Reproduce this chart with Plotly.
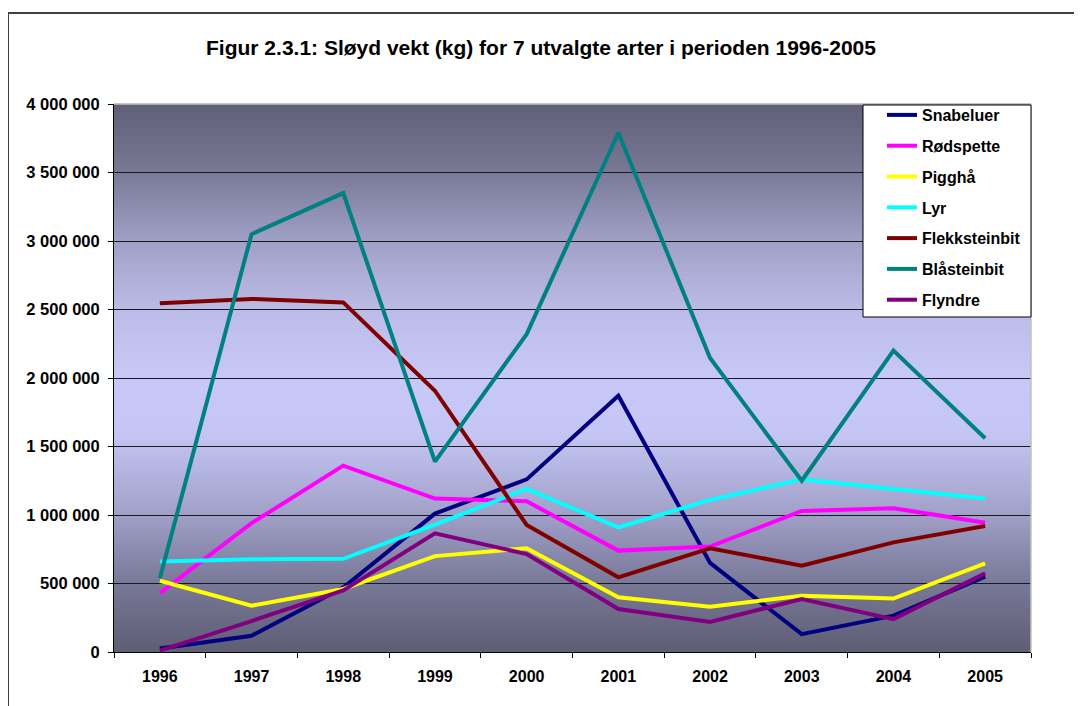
import plotly.graph_objects as go

years = ["1996", "1997", "1998", "1999", "2000", "2001", "2002", "2003", "2004", "2005"]

snabeluer = [25000, 119000, 470000, 1010000, 1260000, 1870000, 650000, 130000, 265000, 550000]
rodspette = [430000, 940000, 1360000, 1120000, 1100000, 740000, 770000, 1030000, 1050000, 944000]
piggha = [520000, 338000, 460000, 700000, 757000, 400000, 330000, 410000, 390000, 647000]
lyr = [660000, 677000, 680000, 930000, 1190000, 910000, 1110000, 1260000, 1190000, 1120000]
flekksteinbit = [2545000, 2577000, 2552000, 1907000, 927000, 545000, 757000, 630000, 800000, 920000]
blasteinbit = [538000, 3050000, 3350000, 1390000, 2320000, 3790000, 2146000, 1250000, 2200000, 1560000]
flyndre = [10000, 226000, 450000, 866000, 715000, 314000, 220000, 387000, 240000, 574000]

series_names = ["Snabeluer", "Rødspette", "Pigghå", "Lyr", "Flekksteinbit", "Blåsteinbit", "Flyndre"]
series_values = [snabeluer, rodspette, piggha, lyr, flekksteinbit, blasteinbit, flyndre]
series_colors = ["#000080", "#ff00ff", "#ffff00", "#00ffff", "#800000", "#008080", "#800080"]

W, H = 1082, 706
OFF = 8  # page body margin
L, R, T, B = 114, 1031, 104, 652  # plot area in reference pixels
FONT = "Arial, Liberation Sans, sans-serif"

fig = go.Figure()
for i, (name, vals, col) in enumerate(zip(series_names, series_values, series_colors)):
    fig.add_trace(go.Scatter(
        x=years, y=vals, name=name, mode="lines",
        line=dict(color=col, width=4),
        legendgroup=f"g{i}",
    ))

def px2paper_x(px):
    return (px - L) / (R - L)

def px2paper_y(py):
    return (B - py) / (B - T)

# gradient background (plot area)
stops = [
    (0.00, (95, 95, 118)),
    (0.12, (120, 120, 150)),
    (0.25, (160, 160, 198)),
    (0.38, (188, 188, 232)),
    (0.50, (200, 200, 248)),
    (0.60, (198, 198, 246)),
    (0.75, (160, 160, 200)),
    (0.876, (120, 120, 152)),
    (1.00, (94, 94, 116)),
]

def grad(t):
    for (t0, c0), (t1, c1) in zip(stops[:-1], stops[1:]):
        if t0 <= t <= t1:
            f = (t - t0) / (t1 - t0) if t1 > t0 else 0
            return tuple(round(a + (b - a) * f) for a, b in zip(c0, c1))
    return stops[-1][1]

shapes = []
N = 137
for k in range(N):
    t_top = k / N
    t_bot = (k + 1) / N
    c = grad((t_top + t_bot) / 2)
    shapes.append(dict(
        type="rect", xref="x domain", yref="y domain",
        x0=0, x1=1, y0=1 - t_bot - 0.0005, y1=1 - t_top + 0.0005,
        fillcolor=f"rgb{c}", line=dict(width=0), layer="below",
    ))

# light plot-area border (top/right)
shapes.append(dict(type="line", xref="x domain", yref="y domain", x0=0, x1=1, y0=1, y1=1,
                   line=dict(color="#c0c0c0", width=1.5), layer="above"))
shapes.append(dict(type="line", xref="x domain", yref="y domain", x0=1, x1=1, y0=0, y1=1,
                   line=dict(color="#c0c0c0", width=1.5), layer="above"))

# legend box
shapes.append(dict(type="rect", xref="paper", yref="paper",
                   x0=px2paper_x(863), x1=px2paper_x(1031),
                   y0=px2paper_y(317), y1=px2paper_y(105),
                   fillcolor="white", line=dict(color="black", width=1), layer="above"))

# chart area outer border
shapes.append(dict(type="line", xref="paper", yref="paper",
                   x0=px2paper_x(8), x1=px2paper_x(1100), y0=px2paper_y(13), y1=px2paper_y(13),
                   line=dict(color="#404040", width=2)))
shapes.append(dict(type="line", xref="paper", yref="paper",
                   x0=px2paper_x(8), x1=px2paper_x(8), y0=px2paper_y(13), y1=px2paper_y(720),
                   line=dict(color="#404040", width=2)))

ml = L - OFF
mt = T - OFF
mr = W - ml - (R - L)
mb = H - mt - (B - T)

fig.update_layout(
    width=W, height=H,
    margin=dict(l=ml, r=mr, t=mt, b=mb, pad=0),
    paper_bgcolor="white",
    plot_bgcolor="rgba(0,0,0,0)",
    separators=". ",
    font=dict(family=FONT, color="black"),
    title=dict(
        text="Figur 2.3.1: Sløyd vekt (kg) for 7 utvalgte arter i perioden 1996-2005",
        x=px2paper_x(541), xref="paper", xanchor="center",
        y=1 - (48 - OFF) / H, yref="container", yanchor="middle",
        font=dict(family=FONT, size=21, color="black", weight="bold"),
    ),
    shapes=shapes,
    showlegend=True,
    legend=dict(
        x=px2paper_x(882), xanchor="left",
        y=px2paper_y(98), yanchor="top",
        bgcolor="rgba(0,0,0,0)", borderwidth=0,
        font=dict(family=FONT, size=16, color="black", weight="bold"),
        tracegroupgap=7,
        traceorder="grouped",
    ),
)

fig.update_xaxes(
    type="category", range=[-0.5, 9.5],
    tickson="boundaries", ticks="outside", ticklen=5, tickwidth=1, tickcolor="black",
    showline=True, linecolor="black", linewidth=1,
    showgrid=False, zeroline=False,
    tickfont=dict(family=FONT, size=16, color="black", weight="bold"),
    ticklabelstandoff=10,
)
fig.update_yaxes(
    range=[0, 4000000], dtick=500000, tick0=0,
    tickformat=",d",
    ticks="outside", ticklen=5, tickwidth=1, tickcolor="black",
    showline=True, linecolor="black", linewidth=1,
    showgrid=True, gridcolor="#1a1a1a", gridwidth=1,
    zeroline=False,
    tickfont=dict(family=FONT, size=16.5, color="black", weight="bold"),
    ticklabelstandoff=5,
)

fig.write_html("out.html")
